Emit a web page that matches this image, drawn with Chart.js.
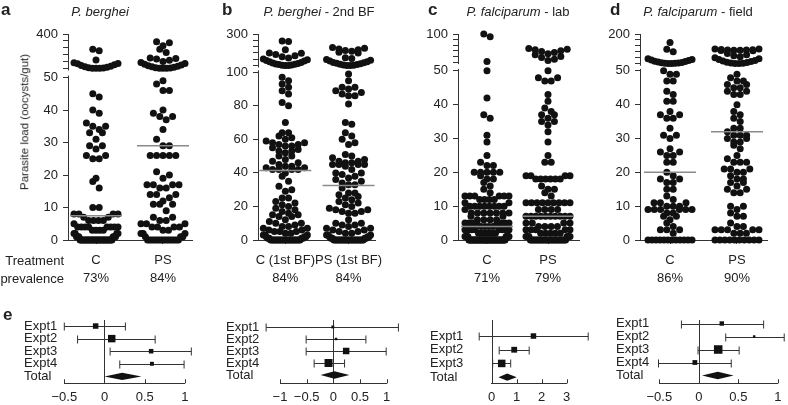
<!DOCTYPE html>
<html>
<head>
<meta charset="utf-8">
<script src="https://cdn.jsdelivr.net/npm/chart.js@4.4.1/dist/chart.umd.min.js"></script>
<style>
  html, body { margin: 0; background: #fff; }
  #wrap { position: relative; width: 788px; height: 405px; overflow: hidden;
          font-family: "Liberation Sans", Arial, Helvetica, sans-serif; color: #222; }
  canvas { position: absolute; }
  .t { position: absolute; font-size: 13px; line-height: 1; white-space: nowrap; }
  .ttl { transform: translateX(-50%); }
  .rt { transform: translateX(-100%); }
  .lt { position: absolute; font-size: 17px; font-weight: bold; line-height: 1; }
</style>
</head>
<body>
<div id="wrap">
  <canvas id="pa" width="198" height="300" style="left:0px;top:0px"></canvas>
  <canvas id="pb" width="193" height="300" style="left:198px;top:0px"></canvas>
  <canvas id="pc" width="192" height="300" style="left:392px;top:0px"></canvas>
  <canvas id="pd" width="204" height="300" style="left:584px;top:0px"></canvas>
  <canvas id="f1" width="195" height="100" style="left:0px;top:305px"></canvas>
  <canvas id="f2" width="215" height="100" style="left:190px;top:305px"></canvas>
  <canvas id="f3" width="205" height="100" style="left:395px;top:305px"></canvas>
  <canvas id="f4" width="188" height="100" style="left:600px;top:305px"></canvas>

  <div class="lt" style="left:1px;top:1px">a</div>
  <div class="lt" style="left:222px;top:1px">b</div>
  <div class="lt" style="left:428px;top:1px">c</div>
  <div class="lt" style="left:610px;top:1px">d</div>
  <div class="lt" style="left:3px;top:306px">e</div>

  <div class="t ttl" style="left:100px;top:5px"><i>P. berghei</i></div>
  <div class="t ttl" style="left:319px;top:5px"><i>P. berghei</i> - 2nd BF</div>
  <div class="t ttl" style="left:518px;top:5px"><i>P. falciparum</i> - lab</div>
  <div class="t ttl" style="left:698px;top:5px"><i>P. falciparum</i> - field</div>

  <div class="t rt" style="left:64px;top:254px">Treatment</div>
  <div class="t rt" style="left:64px;top:272px">prevalence</div>
  <div class="t" style="left:25px;top:122px;font-size:11.5px;transform:translate(-50%,-50%) rotate(-90deg)">Parasite load (oocysts/gut)</div>
</div>

<script>
// ---- data: parasite load per mosquito (oocysts/gut) ----
const aC = [245, 230, 136, 101, 108, 98, 88, 80, 72, 67, 62, 58, 55, 52, 51, 51,
  45, 44, 40, 39, 36, 35, 35, 34, 33, 33, 31, 29, 29, 28, 26, 26, 25, 25, 19, 18, 16,
  10, 10, 8, 8, 8, 8, 7, 7, 6, 6, 6, 6, 5, 4, 4, 4, 4, 4, 4, 4, 4, 3, 3, 3, 3, 2, 2, 2, 2,
  1, 1, 1, 1, 1, 1,
  0, 0, 0, 0, 0, 0, 0, 0, 0, 0, 0, 0, 0, 0, 0, 0, 0, 0, 0, 0, 0, 0, 0, 0, 0, 0, 0];
const aPS = [322, 311, 281, 244, 212, 155, 152, 145, 132, 120, 110, 100, 92, 85, 78, 72, 66, 62, 58, 55, 52, 51, 51,
  49, 48, 46, 46, 40, 39, 38, 38, 37, 34, 31, 29, 29, 26, 26, 26, 26, 26, 21, 20, 19,
  17, 17, 17, 17, 16, 16, 14, 14, 14, 13, 12, 11, 11, 11, 9, 7, 7, 6, 6, 5, 5, 5,
  4, 4, 4, 4, 3, 3, 2, 2, 2, 1, 1, 1,
  0, 0, 0, 0, 0, 0, 0, 0, 0, 0, 0, 0, 0, 0, 0];
const bC = [255, 252, 200, 180, 178, 170, 162, 155, 148, 142, 137, 132, 128, 124, 120, 116, 113, 110, 108, 106, 104, 102, 101, 101,
  97, 95, 93, 91, 89, 87, 82, 80, 70, 64, 64, 62, 61, 60, 59, 58, 58, 57, 57, 56, 56, 55, 54, 53, 53, 52,
  50, 50, 48, 47, 46, 45, 44, 44, 43, 43, 42, 42, 42, 42, 40, 38, 35, 32, 30, 29,
  25, 25, 23, 22, 21, 20, 19, 18, 17, 16, 15, 15, 14, 14, 12, 11, 10, 10, 9, 8, 8, 7, 7, 6, 6,
  5, 5, 5, 4, 4, 3, 3, 3, 2, 2, 2, 1, 1, 1, 1,
  0, 0, 0, 0, 0, 0, 0, 0, 0, 0, 0, 0, 0, 0, 0, 0, 0, 0, 0, 0, 0];
const bPS = [215, 210, 205, 200, 195, 190, 185, 180, 150, 144, 138, 133, 128, 124, 120, 117, 114, 111, 108, 106, 104, 102, 101, 101,
  99, 95, 91, 91, 90, 89, 88, 87, 86, 86, 81, 70, 69, 64, 62, 60, 58, 57,
  51, 50, 49, 48, 47, 47, 46, 46, 45, 45, 45, 45, 44, 42, 40, 40, 39, 38, 37, 36, 35, 34, 33, 33, 31,
  28, 28, 27, 26, 25, 24, 23, 22, 21, 20, 19, 18, 18, 17, 17, 16, 16, 12, 10, 10, 9, 9, 8, 7, 7, 6, 6,
  5, 5, 4, 4, 3, 3, 3, 2, 2, 2, 1, 1, 1, 1,
  0, 0, 0, 0, 0, 0, 0, 0, 0, 0, 0, 0, 0, 0, 0, 0, 0, 0, 0, 0, 0];
const cC = [100, 95, 51, 50, 42, 37, 36, 31, 29, 25, 23, 22, 22, 20, 20, 20, 20, 20, 19, 18, 18, 17, 16,
  15, 14, 13, 13, 13, 13, 13, 13, 12, 12, 12, 12, 11, 11, 10, 10, 10, 10, 10, 10, 10, 10, 9,
  8, 8, 8, 8, 8, 8, 8, 7, 7, 6, 6, 6, 6, 5, 5, 5, 5, 5, 5, 5, 5, 4, 4, 4, 4,
  3, 3, 3, 3, 3, 3, 3, 3, 2, 2, 2, 2, 2, 2, 1, 1, 1, 1, 1, 1, 1, 1,
  0, 0, 0, 0, 0, 0, 0, 0, 0, 0, 0, 0, 0, 0, 0, 0, 0, 0, 0, 0, 0, 0, 0, 0, 0, 0, 0, 0, 0, 0, 0, 0, 0, 0, 0, 0, 0, 0];
const cPS = [74, 73, 72, 70, 69, 67, 65, 63, 60, 58, 55, 53,
  50, 48, 48, 47, 47, 43, 41, 39, 38, 37, 37, 36, 35, 35, 34, 32, 29, 25, 23, 23,
  19, 19, 19, 19, 18, 18, 18, 18, 18, 18, 16, 15, 15, 14, 13, 11, 11, 11, 11, 11, 11, 11, 11, 11,
  9, 9, 9, 9, 7, 7, 7, 7, 7, 7, 7, 7, 7, 7, 5, 5, 5, 5, 4, 4, 4, 4,
  3, 3, 3, 3, 3, 2, 2, 2, 2, 2, 1, 1, 1, 1, 1, 1,
  0, 0, 0, 0, 0, 0, 0, 0, 0, 0, 0, 0, 0, 0, 0, 0, 0, 0, 0, 0, 0, 0, 0, 0, 0];
const dC = [157, 123, 111, 75, 72, 69, 66, 63, 61, 59, 57, 55, 54, 53, 52, 51, 51,
  50, 49, 49, 47, 47, 44, 43, 41, 41, 38, 37, 37, 36, 36, 33, 31, 31, 30,
  27, 26, 26, 25, 25, 23, 23, 20, 19, 18, 18, 17, 17, 15, 15, 13, 12,
  11, 11, 11, 10, 10, 10, 9, 9, 9, 9, 9, 9, 8, 8, 7, 7, 6, 5, 4, 3, 3, 3, 2,
  0, 0, 0, 0, 0, 0, 0, 0, 0, 0, 0, 0];
const dPS = [125, 124, 122, 121, 120, 119, 118, 118, 117, 115, 102, 96, 90, 85, 80, 75, 71, 67, 64, 61, 58, 56, 54, 52, 51, 51,
  49, 48, 47, 47, 46, 46, 45, 45, 44, 44, 43, 43, 40, 38, 37, 36, 35,
  33, 33, 32, 31, 31, 31, 30, 30, 29, 29, 28, 27, 25, 24, 23, 23, 23,
  21, 21, 21, 20, 20, 19, 18, 18, 17, 17, 16, 15, 15, 14, 14,
  10, 10, 9, 8, 7, 7, 5, 4, 4, 3, 3, 3, 3, 3, 2, 2, 2,
  0, 0, 0, 0, 0, 0, 0, 0, 0, 0];

// medians (grey lines)
const medA = [7.5, 29];
const medB = [41.5, 32.5];
const medC = [4, 7];
const medD = [20, 32];

// categories and prevalence
const catsA = ['C', 'PS'];
const catsB = ['C (1st BF)', 'PS (1st BF)'];
const prevA = ['73%', '84%'];
const prevB = ['84%', '84%'];
const prevC = ['71%', '79%'];
const prevD = ['86%', '90%'];

// y tick labels (lower part of the axis, and the segment above the break)
const lowTicksA = [0, 10, 20, 30, 40, 50];
const lowTicksB = [0, 20, 40, 60, 80, 100];
const lowTicksCD = [0, 10, 20, 30, 40, 50];
const topTicksA = [50, 120, 190, 260, 330, 400];
const topTicksB = [100, 140, 180, 220, 260, 300];
const topTicksC = [50, 60, 70, 80, 90, 100];
const topTicksD = [50, 80, 110, 140, 170, 200];

// ---- forest plots (effect size, 95% CI, weight) ----
const rowsE = ['Expt1', 'Expt2', 'Expt3', 'Expt4', 'Total'];
const rowsE3 = ['Expt1', 'Expt2', 'Expt3', 'Total'];
const est1 = [-0.11, 0.09, 0.58, 0.59], lo1 = [-0.5, -0.335, 0.07, 0.19], hi1 = [0.26, 0.63, 1.08, 0.99];
const wt1 = [25, 46, 17, 13], tot1 = [0.0, 0.22, 0.46];
const est2 = [-0.01, 0.05, 0.24, -0.09], lo2 = [-1.26, -0.51, -0.51, -0.36], hi2 = [1.22, 0.61, 0.99, 0.21];
const wt2 = [7, 5, 35, 53], tot2 = [-0.24, 0.02, 0.3];
const est3 = [1.67, 0.9, 0.4], lo3 = [-0.5, 0.3, 0.04], hi3 = [3.86, 1.5, 0.76];
const wt3 = [25, 28, 47], tot3 = [0.27, 0.62, 1.0];
const est4 = [0.29, 0.7, 0.245, -0.05], lo4 = [-0.22, 0.34, -0.01, -0.51], hi4 = [0.82, 1.08, 0.51, 0.41];
const wt4 = [16, 5, 60, 19], tot4 = [0.04, 0.24, 0.44];
const xt1 = [-0.5, 0, 0.5, 1], xt2 = [-1, -0.5, 0, 0.5, 1], xt3 = [0, 1, 2, 3], xt4 = [-0.5, 0, 0.5, 1];

// ---- styles ----
const FONT = { family: '"Liberation Sans", Arial, sans-serif', size: 13 };
const INK = '#222', AXIS = '#333', DOT = '#111', MED = '#8a8a8a';
const DOT_R = 3.5, DOT_GAP = 6.4, ROW_H = 6.5, SWARM_W = 22, MED_HALF = 26;

// Prism-like column scatter: points binned into rows, lowest values in the middle
function swarm(vals, cx, yPix) {
    const pts = vals.map(v => ({ v: v, y: yPix(v) })).sort((a, b) => a.v - b.v);
    const rows = [];
    pts.forEach(p => {
        const r = rows[rows.length - 1];
        if (r && r.y0 - p.y < ROW_H) r.items.push(p);
        else rows.push({ y0: p.y, items: [p] });
    });
    rows.forEach(r => {
        const n = r.items.length;
        const step = n > 1 ? Math.min(DOT_GAP, 2 * SWARM_W / (n - 1)) : 0;
        const offs = [];
        for (let j = 0; j < n; j++) offs.push((j - (n - 1) / 2) * step);
        offs.sort((a, b) => Math.abs(a) - Math.abs(b) || b - a);
        r.items.forEach((p, k) => { p.x = cx + offs[k]; });
    });
    return pts;
}

// dot plot with broken y axis
function makeDots(id, p) {
    const topT = v => p.segStart + (v - p.topTicks[0]) / (p.topTicks[p.topTicks.length - 1] - p.topTicks[0]) * (p.segTop - p.segStart);
    const toT = v => v <= p.lowMax ? v : topT(v);
    const tickVals = p.lowTicks.concat(p.topTicks.map(topT));
    const tickLbls = p.lowTicks.map(String).concat(p.topTicks.map((v, i) => i === p.topTicks.length - 1 ? String(v) : ''));

    const chart = new Chart(document.getElementById(id), {
        type: 'scatter',
        data: {
            datasets: p.groups.map((g, i) => ({
                data: g.map(v => ({ x: i + 1, y: toT(v) })),
                backgroundColor: DOT, borderWidth: 0, pointRadius: DOT_R, clip: false
            }))
        },
        options: {
            responsive: false, animation: false, events: [],
            layout: { padding: { left: 0, right: p.pr, top: 34, bottom: 0 } },
            plugins: { legend: { display: false }, tooltip: { enabled: false } },
            scales: {
                x: {
                    type: 'linear', min: p.xmin, max: p.xmax,
                    afterBuildTicks: s => { s.ticks = [{ value: 1 }, { value: 2 }]; },
                    afterFit: s => { s.height = 60; },
                    grid: { display: true, drawOnChartArea: false, tickLength: 4, color: AXIS },
                    border: { display: true, color: AXIS },
                    ticks: {
                        autoSkip: false, maxRotation: 0, padding: 7, color: INK,
                        font: Object.assign({ lineHeight: 1.41 }, FONT),
                        callback: (v, i) => [p.cats[i], p.prev[i]]
                    }
                },
                y: {
                    type: 'linear', min: 0, max: p.segTop,
                    afterBuildTicks: s => { s.ticks = tickVals.map(v => ({ value: v })); },
                    afterFit: s => { s.width = p.yw; },
                    grid: { display: true, drawOnChartArea: false, tickLength: 5, color: AXIS },
                    border: { display: true, color: AXIS },
                    ticks: { autoSkip: false, padding: 5, color: INK, font: FONT, callback: (v, i) => tickLbls[i] }
                }
            }
        },
        plugins: [{
            id: 'brk',
            afterDatasetsDraw(c) {
                const ctx = c.ctx, xs = c.scales.x, ys = c.scales.y;
                ctx.save();
                ctx.strokeStyle = MED; ctx.lineWidth = 1.5;
                p.med.forEach((m, i) => {
                    const cx = xs.getPixelForValue(i + 1), y = ys.getPixelForValue(m);
                    ctx.beginPath(); ctx.moveTo(cx - MED_HALF, y); ctx.lineTo(cx + MED_HALF, y); ctx.stroke();
                });
                ctx.restore();
            },
            afterDraw(c) {
                const ctx = c.ctx, ys = c.scales.y, x = c.chartArea.left;
                const y1 = ys.getPixelForValue(p.segStart) + 2, y2 = ys.getPixelForValue(p.lowMax) - 2;
                ctx.save();
                ctx.fillStyle = '#fff';
                ctx.fillRect(x - 2, y1, 4, y2 - y1);
                ctx.restore();
            }
        }]
    });

    // lay the points out as a column scatter, then redraw
    const xs = chart.scales.x, ys = chart.scales.y;
    p.groups.forEach((g, i) => {
        const pts = swarm(g, xs.getPixelForValue(i + 1), v => ys.getPixelForValue(toT(v)));
        chart.data.datasets[i].data = pts.map(q => ({ x: xs.getValueForPixel(q.x), y: toT(q.v) }));
    });
    chart.update('none');
}

// forest plot
function makeForest(id, f) {
    const side = w => 1.1 * Math.sqrt(w);
    const n = f.est.length;
    new Chart(document.getElementById(id), {
        type: 'scatter',
        data: {
            datasets: [{
                data: f.est.map((e, i) => ({ x: e, y: i })),
                pointStyle: 'rect', pointRadius: f.wt.map(w => side(w) / Math.SQRT2),
                backgroundColor: DOT, borderWidth: 0, clip: false
            }]
        },
        options: {
            responsive: false, animation: false, events: [],
            layout: { padding: { left: f.pl, right: f.pr, top: 15, bottom: 0 } },
            plugins: { legend: { display: false }, tooltip: { enabled: false } },
            scales: {
                x: {
                    type: 'linear', min: f.ticks[0], max: f.ticks[f.ticks.length - 1],
                    afterBuildTicks: s => { s.ticks = f.ticks.map(v => ({ value: v })); },
                    afterFit: s => { s.height = 21.7; },
                    grid: { display: false, drawTicks: false },
                    border: { display: true, color: AXIS },
                    ticks: {
                        autoSkip: false, maxRotation: 0, padding: 6.5, color: INK, font: FONT,
                        callback: v => (v < 0 ? '\u2212' : '') + Math.abs(v)
                    }
                },
                y: {
                    type: 'linear', reverse: true, min: f.ymin, max: f.ymax,
                    afterBuildTicks: s => { s.ticks = f.rows.map((r, i) => ({ value: i })); },
                    afterFit: s => { s.width = f.yw; },
                    grid: { display: false, drawTicks: false },
                    border: { display: false },
                    ticks: { autoSkip: false, crossAlign: 'far', padding: 0, color: INK, font: FONT, callback: (v, i) => f.rows[i] }
                }
            }
        },
        plugins: [{
            id: 'forest',
            beforeDatasetsDraw(c) {
                const ctx = c.ctx, xs = c.scales.x, ys = c.scales.y, a = c.chartArea;
                ctx.save();
                ctx.strokeStyle = AXIS; ctx.lineWidth = 1;
                const x0 = Math.round(xs.getPixelForValue(0)) + 0.5;
                ctx.beginPath(); ctx.moveTo(x0, a.top); ctx.lineTo(x0, a.bottom); ctx.stroke();
                for (let i = 0; i < n; i++) {
                    const y = Math.round(ys.getPixelForValue(i)) + 0.5;
                    const xl = xs.getPixelForValue(f.lo[i]), xh = xs.getPixelForValue(f.hi[i]);
                    ctx.beginPath();
                    ctx.moveTo(xl, y); ctx.lineTo(xh, y);
                    ctx.moveTo(xl, y - 4); ctx.lineTo(xl, y + 4);
                    ctx.moveTo(xh, y - 4); ctx.lineTo(xh, y + 4);
                    ctx.stroke();
                }
                // inward tick marks on the x axis
                f.ticks.forEach(v => {
                    const x = Math.round(xs.getPixelForValue(v)) + 0.5;
                    ctx.beginPath(); ctx.moveTo(x, a.bottom); ctx.lineTo(x, a.bottom - 4); ctx.stroke();
                });
                // pooled estimate
                const yt = ys.getPixelForValue(n);
                ctx.fillStyle = DOT;
                ctx.beginPath();
                ctx.moveTo(xs.getPixelForValue(f.tot[0]), yt);
                ctx.lineTo(xs.getPixelForValue(f.tot[1]), yt - 3.7);
                ctx.lineTo(xs.getPixelForValue(f.tot[2]), yt);
                ctx.lineTo(xs.getPixelForValue(f.tot[1]), yt + 3.7);
                ctx.closePath(); ctx.fill();
                ctx.restore();
            }
        }]
    });
}

document.addEventListener('DOMContentLoaded', function () {
    makeDots('pa', { groups: [aC, aPS], med: medA, cats: catsA, prev: prevA, lowTicks: lowTicksA, topTicks: topTicksA,
        lowMax: 50, segStart: 52.8, segTop: 63.4, xmin: 0.582, xmax: 2.433, yw: 68, pr: 6 });
    makeDots('pb', { groups: [bC, bPS], med: medB, cats: catsB, prev: prevB, lowTicks: lowTicksB, topTicks: topTicksB,
        lowMax: 100, segStart: 104, segTop: 122.8, xmin: 0.567, xmax: 2.433, yw: 60, pr: 8 });
    makeDots('pc', { groups: [cC, cPS], med: medC, cats: catsA, prev: prevC, lowTicks: lowTicksCD, topTicks: topTicksC,
        lowMax: 50, segStart: 52.6, segTop: 60.9, xmin: 0.525, xmax: 2.508, yw: 66, pr: 5 });
    makeDots('pd', { groups: [dC, dPS], med: medD, cats: catsA, prev: prevD, lowTicks: lowTicksCD, topTicks: topTicksD,
        lowMax: 50, segStart: 52.1, segTop: 60.9, xmin: 0.552, xmax: 2.448, yw: 56, pr: 21 });

    makeForest('f1', { est: est1, lo: lo1, hi: hi1, wt: wt1, tot: tot1, rows: rowsE, ticks: xt1, ymin: -0.48, ymax: 4.55, pl: 24, yw: 40.3, pr: 10 });
    makeForest('f2', { est: est2, lo: lo2, hi: hi2, wt: wt2, tot: tot2, rows: rowsE, ticks: xt2, ymin: -0.58, ymax: 4.69, pl: 36, yw: 54, pr: 18.3 });
    makeForest('f3', { est: est3, lo: lo3, hi: hi3, wt: wt3, tot: tot3, rows: rowsE3, ticks: xt3, ymin: -1.17, ymax: 3.45, pl: 35, yw: 61.7, pr: 33.3 });
    makeForest('f4', { est: est4, lo: lo4, hi: hi4, wt: wt4, tot: tot4, rows: rowsE, ticks: xt4, ymin: -0.27, ymax: 4.6, pl: 16, yw: 43.3, pr: 6.3 });
});
</script>
</body>
</html>
